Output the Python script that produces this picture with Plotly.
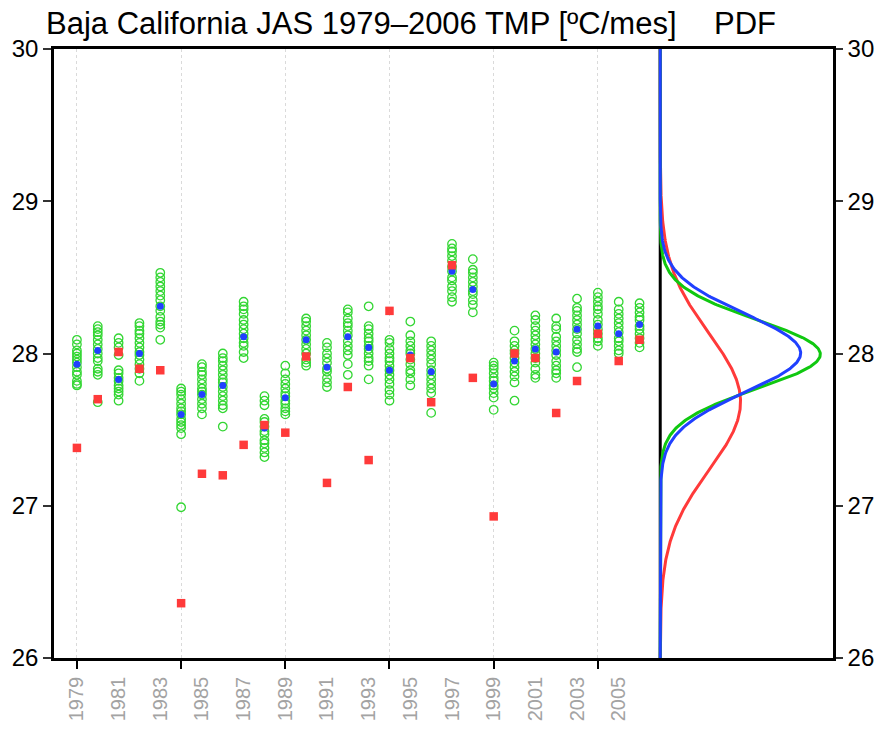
import numpy as np
import plotly.graph_objects as go

# ---- data -------------------------------------------------------------
years = list(range(1979, 2007))

# ensemble members (JAS mean temperature, ºC) per year
ensemble_members = [
    [28.09, 28.06, 28.02, 28.00, 27.98, 27.96, 27.94, 27.91, 27.88, 27.86, 27.82, 27.80, 27.79],
    [28.18, 28.16, 28.14, 28.12, 28.09, 28.06, 28.03, 28.00, 27.97, 27.95, 27.90, 27.88, 27.86, 27.68],
    [28.10, 28.07, 28.04, 27.99, 27.89, 27.87, 27.84, 27.82, 27.79, 27.77, 27.75, 27.73, 27.69],
    [28.20, 28.18, 28.15, 28.13, 28.10, 28.07, 28.04, 28.01, 27.99, 27.96, 27.93, 27.90, 27.87, 27.82],
    [28.53, 28.50, 28.47, 28.44, 28.41, 28.38, 28.35, 28.31, 28.28, 28.24, 28.21, 28.19, 28.17, 28.09],
    [27.77, 27.75, 27.73, 27.70, 27.67, 27.64, 27.62, 27.60, 27.57, 27.55, 27.53, 27.51, 27.47, 26.99],
    [27.93, 27.91, 27.88, 27.86, 27.83, 27.80, 27.77, 27.75, 27.73, 27.70, 27.67, 27.64, 27.60],
    [28.00, 27.97, 27.95, 27.92, 27.89, 27.86, 27.83, 27.81, 27.78, 27.75, 27.72, 27.69, 27.66, 27.64, 27.52],
    [28.34, 28.31, 28.29, 28.26, 28.22, 28.19, 28.16, 28.13, 28.10, 28.07, 28.05, 28.01, 27.97],
    [27.72, 27.69, 27.66, 27.57, 27.55, 27.52, 27.49, 27.47, 27.43, 27.41, 27.38, 27.35, 27.32],
    [27.92, 27.87, 27.83, 27.80, 27.77, 27.74, 27.72, 27.69, 27.67, 27.64, 27.62, 27.60],
    [28.23, 28.21, 28.18, 28.15, 28.12, 28.09, 28.06, 28.03, 28.00, 27.96, 27.94, 27.92],
    [28.07, 28.04, 28.00, 27.97, 27.94, 27.90, 27.88, 27.84, 27.81, 27.78],
    [28.29, 28.27, 28.23, 28.20, 28.18, 28.15, 28.12, 28.08, 28.05, 28.02, 27.99, 27.93, 27.86],
    [28.31, 28.18, 28.16, 28.13, 28.10, 28.08, 28.05, 28.03, 28.00, 27.97, 27.95, 27.92, 27.83],
    [28.09, 28.07, 28.03, 28.00, 27.97, 27.95, 27.92, 27.89, 27.86, 27.83, 27.80, 27.76, 27.73, 27.69],
    [28.21, 28.12, 28.08, 28.05, 28.02, 28.00, 27.96, 27.93, 27.89, 27.87, 27.83, 27.79],
    [28.08, 28.05, 28.02, 27.99, 27.96, 27.93, 27.89, 27.86, 27.83, 27.80, 27.77, 27.74, 27.61],
    [28.72, 28.69, 28.67, 28.64, 28.61, 28.57, 28.54, 28.50, 28.48, 28.44, 28.41, 28.37, 28.34],
    [28.62, 28.55, 28.53, 28.50, 28.47, 28.44, 28.41, 28.39, 28.35, 28.32, 28.27],
    [27.94, 27.92, 27.90, 27.87, 27.84, 27.82, 27.79, 27.77, 27.74, 27.71, 27.63],
    [28.15, 28.08, 28.05, 28.02, 28.00, 27.97, 27.94, 27.91, 27.88, 27.85, 27.81, 27.69],
    [28.25, 28.22, 28.18, 28.15, 28.12, 28.09, 28.06, 28.03, 28.00, 27.97, 27.94, 27.90, 27.86, 27.84],
    [28.23, 28.18, 28.16, 28.11, 28.08, 28.05, 28.02, 27.99, 27.95, 27.92, 27.89, 27.87, 27.84],
    [28.36, 28.30, 28.28, 28.25, 28.22, 28.19, 28.16, 28.13, 28.09, 28.06, 28.03, 28.01, 27.91],
    [28.40, 28.37, 28.34, 28.31, 28.29, 28.26, 28.22, 28.19, 28.16, 28.13, 28.10, 28.08, 28.05],
    [28.34, 28.29, 28.26, 28.23, 28.20, 28.17, 28.14, 28.10, 28.08, 28.05, 28.02, 28.00],
    [28.33, 28.30, 28.27, 28.24, 28.22, 28.18, 28.16, 28.13, 28.10, 28.07, 28.04],
]

# ensemble mean per year
ensemble_mean = [27.93, 28.02, 27.83, 28.00, 28.31, 27.60, 27.73, 27.79, 28.11, 27.51,
                 27.71, 28.09, 27.91, 28.11, 28.04, 27.89, 27.99, 27.88, 28.54, 28.42,
                 27.80, 27.95, 28.03, 28.01, 28.16, 28.18, 28.13, 28.19]

# observed values per year
observed = [27.38, 27.70, 28.01, 27.90, 27.89, 26.36, 27.21, 27.20, 27.40, 27.53,
            27.48, 27.98, 27.15, 27.78, 27.30, 28.28, 27.97, 27.68, 28.58, 27.84,
            26.93, 28.00, 27.97, 27.61, 27.82, 28.13, 27.95, 28.09]

label_years = list(range(1979, 2006, 2))
grid_years = list(range(1979, 2005, 5))
temp_ticks = [26, 27, 28, 29, 30]

# ---- colours / fonts --------------------------------------------------
GREEN = "#33d633"
BLUE = "#2040ff"
RED = "#ff3a3a"
FONT = "Liberation Sans"

fig = go.Figure()

# ensemble members
mx, my = [], []
for yr, vals in zip(years, ensemble_members):
    mx += [yr] * len(vals)
    my += vals
fig.add_trace(go.Scatter(
    x=mx, y=my, mode="markers", xaxis="x", yaxis="y",
    marker=dict(symbol="circle-open", size=8.5, color=GREEN, line=dict(width=1.3, color=GREEN)),
    showlegend=False, hoverinfo="skip"))

# ensemble mean
fig.add_trace(go.Scatter(
    x=years, y=ensemble_mean, mode="markers", xaxis="x", yaxis="y",
    marker=dict(symbol="circle", size=7, color=BLUE),
    showlegend=False, hoverinfo="skip"))

# observations
fig.add_trace(go.Scatter(
    x=years, y=observed, mode="markers", xaxis="x", yaxis="y",
    marker=dict(symbol="square", size=8.5, color=RED),
    showlegend=False, hoverinfo="skip"))

# ---- normal PDFs fitted to each data set -------------------------------
tgrid = np.linspace(26, 30, 801)


def normal_pdf(values):
    v = np.asarray(values, dtype=float)
    mu, sd = v.mean(), v.std()
    return np.exp(-0.5 * ((tgrid - mu) / sd) ** 2) / (sd * np.sqrt(2 * np.pi))


all_members = [v for vals in ensemble_members for v in vals]
pdf_obs = normal_pdf(observed)
pdf_mean = normal_pdf(ensemble_mean)
pdf_members = normal_pdf(all_members)

for dens, col in [(pdf_obs, RED), (pdf_mean, "#10c810"), (pdf_members, BLUE)]:
    fig.add_trace(go.Scatter(
        x=dens, y=tgrid, mode="lines", xaxis="x2", yaxis="y2",
        line=dict(color=col, width=3), showlegend=False, hoverinfo="skip"))

# divider between the two panels (PDF zero line)
fig.add_shape(type="line", xref="x2", yref="paper", x0=0, x1=0, y0=0, y1=1,
              line=dict(color="black", width=3), layer="below")

split = 0.7744

fig.update_layout(
    width=886, height=733,
    margin=dict(l=50, r=47, t=49, b=68),
    paper_bgcolor="white", plot_bgcolor="white",
    font=dict(family=FONT, color="black"),
    xaxis=dict(
        domain=[0, split], range=[1977.9, 2006.85],
        showline=True, mirror=True, linecolor="black", linewidth=2.5,
        tickmode="array", tickvals=label_years, ticktext=[str(y) for y in label_years],
        ticks="outside", ticklen=0, tickangle=-90,
        tickfont=dict(family=FONT, size=20, color="#a3a3a3"),
        ticklabelstandoff=8,
        showgrid=False, zeroline=False,
        minor=dict(tickmode="array", tickvals=grid_years, ticks="outside",
                   ticklen=8, tickwidth=1.5, tickcolor="black",
                   showgrid=True, gridcolor="#dadada", gridwidth=1, griddash="dot"),
    ),
    yaxis=dict(
        domain=[0, 1], range=[26, 30], anchor="x",
        showline=True, mirror=False, linecolor="black", linewidth=2.5,
        tickmode="array", tickvals=temp_ticks,
        ticks="outside", ticklen=8, tickwidth=1.5, tickcolor="#333",
        tickfont=dict(family=FONT, size=24, color="black"),
        showgrid=False, zeroline=False,
    ),
    xaxis2=dict(
        domain=[split, 1], range=[-0.0328, 1.9105], anchor="y2",
        showline=True, mirror=True, linecolor="black", linewidth=2.5,
        showticklabels=False, ticks="", showgrid=False, zeroline=False,
    ),
    yaxis2=dict(
        domain=[0, 1], range=[26, 30], anchor="x2", side="right",
        showline=True, mirror=False, linecolor="black", linewidth=2.5,
        tickmode="array", tickvals=temp_ticks,
        ticks="outside", ticklen=7, tickwidth=1.5, tickcolor="#333",
        tickfont=dict(family=FONT, size=24, color="black"),
        showgrid=False, zeroline=False,
    ),
    annotations=[
        dict(text="Baja California JAS 1979\u20132006 TMP [\u00baC/mes]",
             xref="x domain", yref="paper", x=0.5, y=1, xanchor="center", yanchor="bottom",
             xshift=6, yshift=6, showarrow=False, font=dict(family=FONT, size=31, color="black")),
        dict(text="PDF", xref="x2 domain", yref="paper", x=0.5, y=1, xanchor="center",
             yanchor="bottom", yshift=6, showarrow=False,
             font=dict(family=FONT, size=31, color="black")),
    ],
)

fig.write_html("out.html")
